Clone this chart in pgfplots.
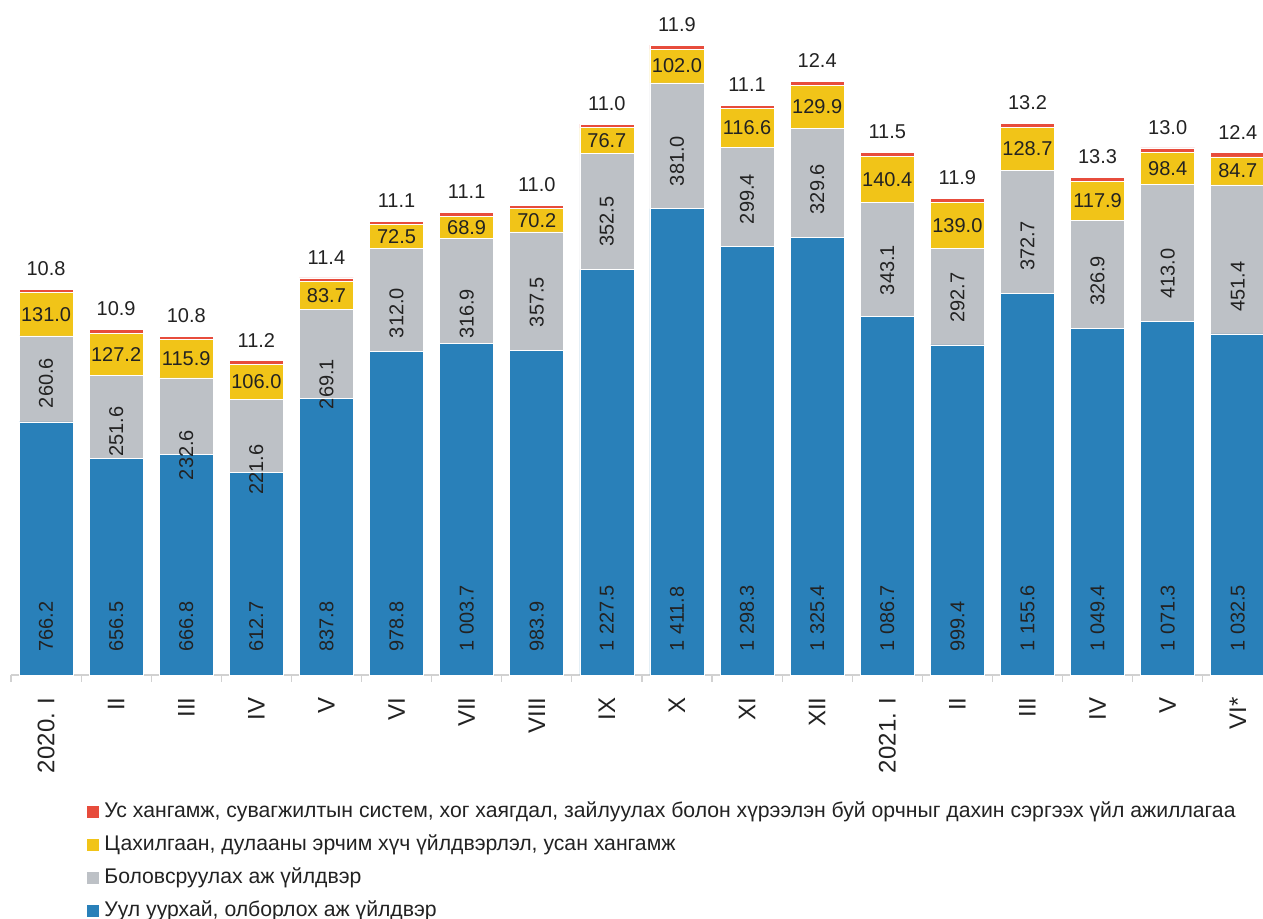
\documentclass[border=0pt]{standalone}
\usepackage{fontspec}
\setmainfont{Liberation Sans}
\usepackage{pgfplots}
\usepackage{pgfplotstable}
\pgfplotsset{compat=1.18}
\definecolor{cblue}{RGB}{41,128,185}
\definecolor{cgray}{RGB}{189,193,198}
\definecolor{cyellow}{RGB}{241,196,24}
\definecolor{cred}{RGB}{231,76,60}
\definecolor{ctext}{RGB}{34,34,34}
\pgfplotstableread{
x blue gray yellow red gy
0 766.2 260.6 131.0 10.8 884
1 656.5 251.6 127.2 10.9 736
2 666.8 232.6 115.9 10.8 666
3 612.7 221.6 106.0 11.2 621
4 837.8 269.1 83.7 11.4 881
5 978.8 312.0 72.5 11.1 1096
6 1003.7 316.9 68.9 11.1 1093
7 983.9 357.5 70.2 11.0 1129
8 1227.5 352.5 76.7 11.0 1373
9 1411.8 381.0 102.0 11.9 1556
10 1298.3 299.4 116.6 11.1 1441
11 1325.4 329.6 129.9 12.4 1471
12 1086.7 343.1 140.4 11.5 1226
13 999.4 292.7 139.0 11.9 1143
14 1155.6 372.7 128.7 13.2 1299
15 1049.4 326.9 117.9 13.3 1193
16 1071.3 413.0 98.4 13.0 1216
17 1032.5 451.4 84.7 12.4 1176
}\datatable
\newcommand{\lblfont}{\fontsize{10}{12}\selectfont}
\newcommand{\tckfont}{\fontsize{12}{14}\selectfont}
\newcommand{\lgdfont}{\fontsize{10.6}{12.5}\selectfont}
\begin{document}
\begin{tikzpicture}
\useasboundingbox (0,0) rectangle (631.5pt,459.5pt);
\begin{axis}[
  at={(5.5pt,122pt)}, anchor=south west,
  width=626pt, height=337.5pt, scale only axis,
  ybar stacked, bar width=27pt,
  xmin=-0.5, xmax=17.36, ymin=0, ymax=2043.6,
  axis x line=bottom, axis y line=none,
  x axis line style={-, draw=black!18, line width=0.8pt},
  xtick={0,...,17},
  xticklabels={2020. I,II,III,IV,V,VI,VII,VIII,IX,X,XI,XII,2021. I,II,III,IV,V,VI*},
  major tick length=0pt,
  minor xtick={-0.5,0.5,...,16.5},
  minor tick length=3.5pt,
  tick align=outside,
  minor tick style={draw=black!18, line width=0.6pt},
  xticklabel style={rotate=90, anchor=east, inner sep=0pt, font=\tckfont, text=ctext},
  xticklabel shift=11pt,
  clip=false,
  /pgf/number format/fixed, /pgf/number format/fixed zerofill,
  /pgf/number format/precision=1, /pgf/number format/1000 sep={\ },
  /pgf/number format/assume math mode=true,
  reverse legend,
  legend cell align=left,
  legend image code/.code={\fill[#1] (0pt,-3.1pt) rectangle (6.5pt,3.1pt);},
  legend style={at={(0.0594,-0.1883)}, anchor=north west, draw=none, fill=none,
    font=\lgdfont, text=ctext, inner sep=0pt, row sep=7pt, column sep=2.5pt,
    nodes={inner sep=0pt, text height=7.5pt, text depth=2pt}},
]
\addplot[fill=cblue, draw=white, line width=0.3pt] table[x=x, y=blue]{\datatable};
\addlegendentry{Уул уурхай, олборлох аж үйлдвэр}
\addplot[fill=cgray, draw=white, line width=0.3pt] table[x=x, y=gray]{\datatable};
\addlegendentry{Боловсруулах аж үйлдвэр}
\addplot[fill=cyellow, draw=white, line width=0.3pt] table[x=x, y=yellow]{\datatable};
\addlegendentry{Цахилгаан, дулааны эрчим хүч үйлдвэрлэл, усан хангамж}
\addplot[fill=cred, draw=white, line width=0.3pt] table[x=x, y=red]{\datatable};
\addlegendentry{Ус хангамж, сувагжилтын систем, хог хаягдал, зайлуулах болон хүрээлэн буй орчныг дахин сэргээх үйл ажиллагаа}
% value labels: invisible unstacked bars, whose labels sit at the middle of the bar (hence the factor 2)
\addplot[stack plots=false, forget plot, draw=none, fill=none, nodes near coords, point meta=explicit,
  nodes near coords style={yshift=11.5pt, rotate=90, anchor=west, inner sep=0pt, font=\lblfont, text=ctext}]
  table[x=x, y expr=0, meta=blue]{\datatable};
\addplot[stack plots=false, forget plot, draw=none, fill=none, nodes near coords, point meta=explicit,
  nodes near coords style={rotate=90, anchor=center, inner sep=0pt, font=\lblfont, text=ctext}]
  table[x=x, y expr=2*\thisrow{gy}, meta=gray]{\datatable};
\addplot[stack plots=false, forget plot, draw=none, fill=none, nodes near coords, point meta=explicit,
  nodes near coords style={anchor=center, inner sep=0pt, font=\lblfont, text=ctext}]
  table[x=x, y expr=2*\thisrow{blue}+2*\thisrow{gray}+\thisrow{yellow}, meta=yellow]{\datatable};
\addplot[stack plots=false, forget plot, draw=none, fill=none, nodes near coords, point meta=explicit,
  nodes near coords style={anchor=south, yshift=6.5pt, inner sep=0pt, font=\lblfont, text=ctext}]
  table[x=x, y expr=2*(\thisrow{blue}+\thisrow{gray}+\thisrow{yellow}+\thisrow{red}), meta=red]{\datatable};
\end{axis}
\end{tikzpicture}
\end{document}
